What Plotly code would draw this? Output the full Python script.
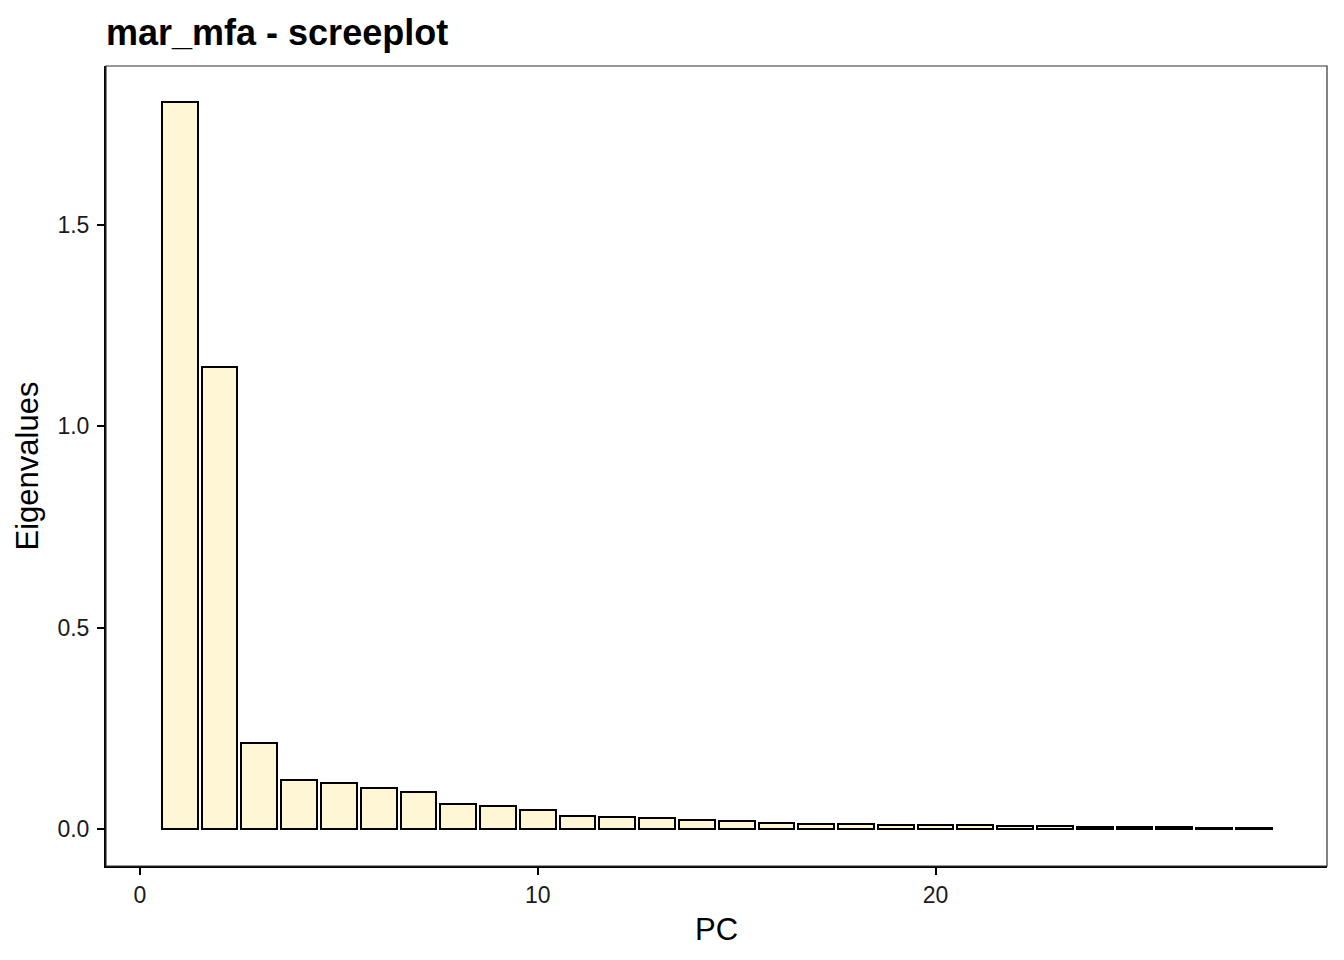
import plotly.graph_objects as go

pcs = list(range(1, 29))
eigenvalues = [1.805, 1.147, 0.214, 0.122, 0.114, 0.102, 0.092, 0.063, 0.057, 0.047,
               0.032, 0.030, 0.028, 0.022, 0.020, 0.016, 0.013, 0.012, 0.011, 0.010,
               0.009, 0.0075, 0.007, 0.006, 0.005, 0.004, 0.003, 0.002]
x_ticks = [0, 10, 20]
y_ticks = [0.0, 0.5, 1.0, 1.5]
y_tick_labels = ["0.0", "0.5", "1.0", "1.5"]

font = "Liberation Sans, Arial, sans-serif"
W, H = 1328, 944  # page body has 8px margin

fig = go.Figure()
fig.add_trace(go.Bar(
    x=pcs, y=eigenvalues, width=0.9,
    marker=dict(color="#FFF6D5", line=dict(color="black", width=2)),
    showlegend=False,
))

fig.update_layout(
    width=W, height=H,
    paper_bgcolor="white", plot_bgcolor="white",
    margin=dict(l=98, r=9, t=58, b=86),
    title=dict(text="<b>mar_mfa - screeplot</b>", xref="paper", x=0, xanchor="left",
               y=1-24/H, yanchor="middle",
               font=dict(family=font, size=36, color="black")),
    font=dict(family=font, color="black"),
    bargap=0,
    xaxis=dict(range=[-0.855, 29.84], tickvals=x_ticks, ticks="outside", ticklen=7,
               tickwidth=2, tickcolor="black", showline=True, linecolor="black",
               linewidth=2, showgrid=False, zeroline=False,
               tickfont=dict(size=23, color="#1a1a1a"),
               title=dict(text="PC", font=dict(size=31, color="black"), standoff=12)),
    yaxis=dict(range=[-0.092, 1.895], tickvals=y_ticks, ticktext=y_tick_labels,
               ticks="outside", ticklen=7, tickwidth=2, tickcolor="black",
               ticklabelstandoff=3,
               showline=True, linecolor="black", linewidth=2, showgrid=False,
               zeroline=False, tickfont=dict(size=23, color="#1a1a1a"),
               title=dict(text="Eigenvalues", font=dict(size=31, color="black"), standoff=10)),
    shapes=[dict(type="rect", xref="paper", yref="paper", x0=0, x1=1, y0=0, y1=1,
                 line=dict(color="#333333", width=1.2), layer="above")],
)

fig.write_html("out.html")
